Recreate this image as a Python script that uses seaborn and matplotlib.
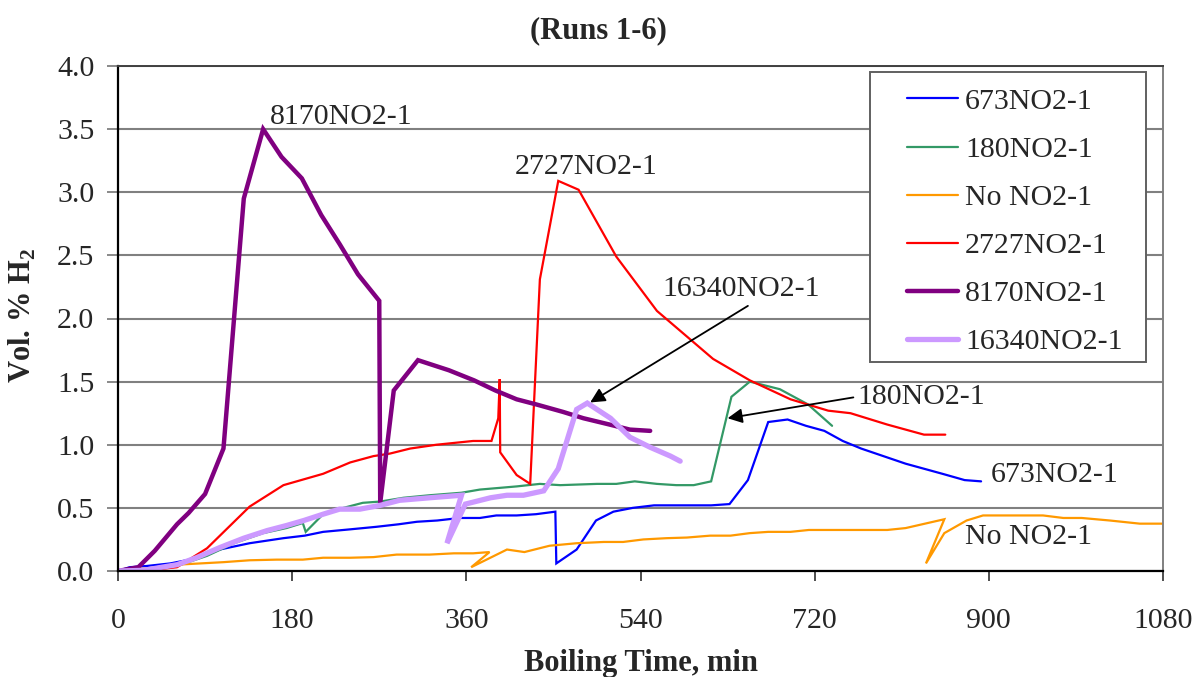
import numpy as np
import pandas as pd
import matplotlib
matplotlib.use("Agg")
import matplotlib.pyplot as plt
from matplotlib.patches import Rectangle
import seaborn as sns

# ---- data: boiling time (min) and H2 concentration (vol. %) for each run ----
t_673 = [0, 12, 30, 54, 74, 105, 136, 171, 193, 212, 240, 267, 290, 309, 330, 353, 374, 391,
         412, 432, 452, 453, 474, 494, 512, 532, 554, 575, 594, 613, 632, 651, 672, 692, 711,
         730, 749, 768, 791, 814, 833, 852, 875, 892]
v_673 = [0, 0.03, 0.04, 0.06, 0.09, 0.17, 0.22, 0.26, 0.28, 0.31, 0.33, 0.35, 0.37, 0.39, 0.40,
         0.42, 0.42, 0.44, 0.44, 0.45, 0.47, 0.06, 0.17, 0.40, 0.47, 0.50, 0.52, 0.52, 0.52, 0.52,
         0.53, 0.72, 1.18, 1.20, 1.15, 1.11, 1.03, 0.97, 0.91, 0.85, 0.81, 0.77, 0.72, 0.71]

t_180 = [0, 30, 61, 92, 120, 150, 174, 191, 194, 212, 233, 253, 271, 295, 322, 355, 374, 412,
         436, 457, 495, 515, 534, 557, 577, 595, 613, 634, 653, 684, 713, 738]
v_180 = [0, 0.01, 0.04, 0.12, 0.22, 0.30, 0.34, 0.38, 0.31, 0.45, 0.50, 0.54, 0.55, 0.58, 0.60,
         0.62, 0.645, 0.67, 0.69, 0.68, 0.69, 0.69, 0.71, 0.69, 0.68, 0.68, 0.71, 1.38, 1.50, 1.44,
         1.32, 1.15]

t_no = [0, 30, 61, 109, 136, 164, 191, 212, 240, 264, 288, 322, 347, 367, 384, 365, 402, 420,
        446, 474, 502, 522, 543, 567, 588, 612, 633, 653, 672, 695, 714, 795, 814, 854, 835, 854,
        877, 894, 956, 977, 996, 1025, 1056, 1080]
v_no = [0, 0.02, 0.05, 0.07, 0.085, 0.09, 0.09, 0.105, 0.105, 0.11, 0.13, 0.13, 0.14, 0.14, 0.15,
        0.03, 0.17, 0.15, 0.20, 0.22, 0.23, 0.23, 0.25, 0.26, 0.265, 0.28, 0.28, 0.30, 0.31, 0.31,
        0.325, 0.325, 0.34, 0.41, 0.06, 0.30, 0.40, 0.44, 0.44, 0.42, 0.42, 0.40, 0.375, 0.375]

t_2727 = [0, 37, 61, 92, 116, 136, 171, 212, 240, 264, 281, 302, 329, 367, 386, 393, 394.5, 395,
          412, 426, 436, 455, 476, 515, 557, 615, 653, 695, 734, 757, 795, 814, 833, 855]
v_2727 = [0, 0.01, 0.03, 0.18, 0.36, 0.51, 0.68, 0.77, 0.86, 0.91, 0.93, 0.97, 1.00, 1.03, 1.03,
          1.21, 1.52, 0.94, 0.76, 0.69, 2.31, 3.09, 3.02, 2.49, 2.06, 1.68, 1.51, 1.36, 1.27, 1.25,
          1.16, 1.12, 1.08, 1.08]

t_8170 = [0, 21, 38, 61, 73, 90, 109, 130, 150, 169, 190, 210, 229, 248, 270, 271, 285, 310,
          342, 368, 390, 412, 432, 460, 481, 508, 529, 550]
v_8170 = [0, 0.03, 0.16, 0.37, 0.46, 0.61, 0.97, 2.95, 3.50, 3.28, 3.11, 2.82, 2.59, 2.35, 2.14,
          0.54, 1.43, 1.67, 1.59, 1.51, 1.43, 1.36, 1.32, 1.26, 1.21, 1.16, 1.12, 1.11]

t_16340 = [0, 26, 61, 81, 105, 130, 154, 174, 192, 212, 229, 250, 271, 291, 322, 355, 340, 359,
           385, 402, 419, 440, 455, 474, 485, 509, 529, 550, 571, 581]
v_16340 = [0, 0.005, 0.05, 0.105, 0.185, 0.26, 0.32, 0.36, 0.40, 0.45, 0.49, 0.49, 0.52, 0.56,
           0.58, 0.60, 0.22, 0.53, 0.58, 0.60, 0.60, 0.635, 0.81, 1.28, 1.33, 1.21, 1.06, 0.98,
           0.91, 0.87]

run_names = ["673NO2-1", "180NO2-1", "No NO2-1", "2727NO2-1", "8170NO2-1", "16340NO2-1"]
run_times = [t_673, t_180, t_no, t_2727, t_8170, t_16340]
run_values = [v_673, v_180, v_no, v_2727, v_8170, v_16340]
run_colors = ["#0000FF", "#339966", "#FF9900", "#FF0000", "#800080", "#CC99FF"]
run_widths = [1.6, 1.6, 1.6, 1.6, 3.2, 3.8]

x_ticks = [0, 180, 360, 540, 720, 900, 1080]
y_ticks = [0.0, 0.5, 1.0, 1.5, 2.0, 2.5, 3.0, 3.5, 4.0]

# ---- style ----
sns.set_style("white")
plt.rcParams["font.family"] = ["Liberation Serif", "DejaVu Serif"]
plt.rcParams["mathtext.fontset"] = "custom"
plt.rcParams["mathtext.rm"] = "Liberation Serif"
plt.rcParams["mathtext.bf"] = "Liberation Serif:bold"

FS = 21.5
W, H = 1195, 677
fig = plt.figure(figsize=(W / 100, H / 100), dpi=100)
ax = fig.add_axes([118 / W, 1 - 571 / H, (1163 - 118) / W, (571 - 66) / H])

for name, t, v, c, lw in zip(run_names, run_times, run_values, run_colors, run_widths):
    df = pd.DataFrame({"time": t, "h2": v})
    sns.lineplot(data=df, x="time", y="h2", sort=False, estimator=None,
                 color=c, lw=lw, label=name, ax=ax, solid_joinstyle="miter")

ax.set_xlim(0, 1080)
ax.set_ylim(0, 4.0)
ax.set_xticks(x_ticks)
ax.set_yticks(y_ticks)
ax.set_yticklabels([f"{y:.1f}" for y in y_ticks])
ax.grid(axis="y", color="#808080", lw=1.5)
ax.grid(axis="x", visible=False)
ax.set_axisbelow(True)

for side in ["left", "bottom"]:
    ax.spines[side].set_color("black")
    ax.spines[side].set_linewidth(1.6)
ax.spines["top"].set_color("#404040")
ax.spines["top"].set_linewidth(1.4)
ax.spines["right"].set_color("#808080")
ax.spines["right"].set_linewidth(1.4)

ax.tick_params(axis="x", direction="out", length=7, width=1.3, color="#404040",
               labelsize=FS, pad=20, bottom=True)
ax.tick_params(axis="y", direction="out", length=8, width=1.3, color="#808080",
               labelsize=FS, pad=9, left=True)

ax.set_xlabel("Boiling Time, min", fontsize=22, fontweight="bold")
ax.xaxis.set_label_coords(0.5, (571 - 664) / 505)
ax.xaxis.label.set_va("center")
ax.set_ylabel(r"Vol. % H$_\mathbf{2}$", fontsize=22, fontweight="bold")
ax.yaxis.set_label_coords((22 - 118) / 1045, (571 - 316) / 505)
ax.yaxis.label.set_va("center")

fig.text(598 / W, 1 - 31 / H, "(Runs 1-6)", ha="center", va="center",
         fontsize=22, fontweight="bold")

# ---- labels on the curves ----
ax.text(157, 3.6, "8170NO2-1", fontsize=FS, va="center", ha="left")
ax.text(410, 3.2, "2727NO2-1", fontsize=FS, va="center", ha="left")
ax.text(563, 2.23, "16340NO2-1", fontsize=FS, va="center", ha="left")
ax.text(764, 1.375, "180NO2-1", fontsize=FS, va="center", ha="left")
ax.text(902, 0.76, "673NO2-1", fontsize=FS, va="center", ha="left")
ax.text(875, 0.27, "No NO2-1", fontsize=FS, va="center", ha="left")

arrow_kw = dict(arrowstyle="-|>", color="black", lw=1.3, mutation_scale=22,
                shrinkA=0, shrinkB=0)
ax.annotate("", xy=(488, 1.335), xytext=(651, 2.10), arrowprops=arrow_kw)
ax.annotate("", xy=(630, 1.21), xytext=(760, 1.375), arrowprops=arrow_kw)

# ---- legend with its own frame ----
leg = ax.legend(loc="upper left", bbox_to_anchor=(907 / W, 1 - 88 / H),
                bbox_transform=fig.transFigure, frameon=False, fontsize=FS,
                borderpad=0, borderaxespad=0, handlelength=1.7, handletextpad=0.25,
                labelspacing=0.71)
fig.add_artist(Rectangle((870 / W, 1 - 362 / H), (1146 - 870) / W, (362 - 72) / H,
                         transform=fig.transFigure, fill=True, facecolor="white",
                         edgecolor="#606060", lw=1.4, zorder=2))
leg.set_zorder(3)
fig.add_artist(leg)

fig.savefig("out.png", dpi=100)
